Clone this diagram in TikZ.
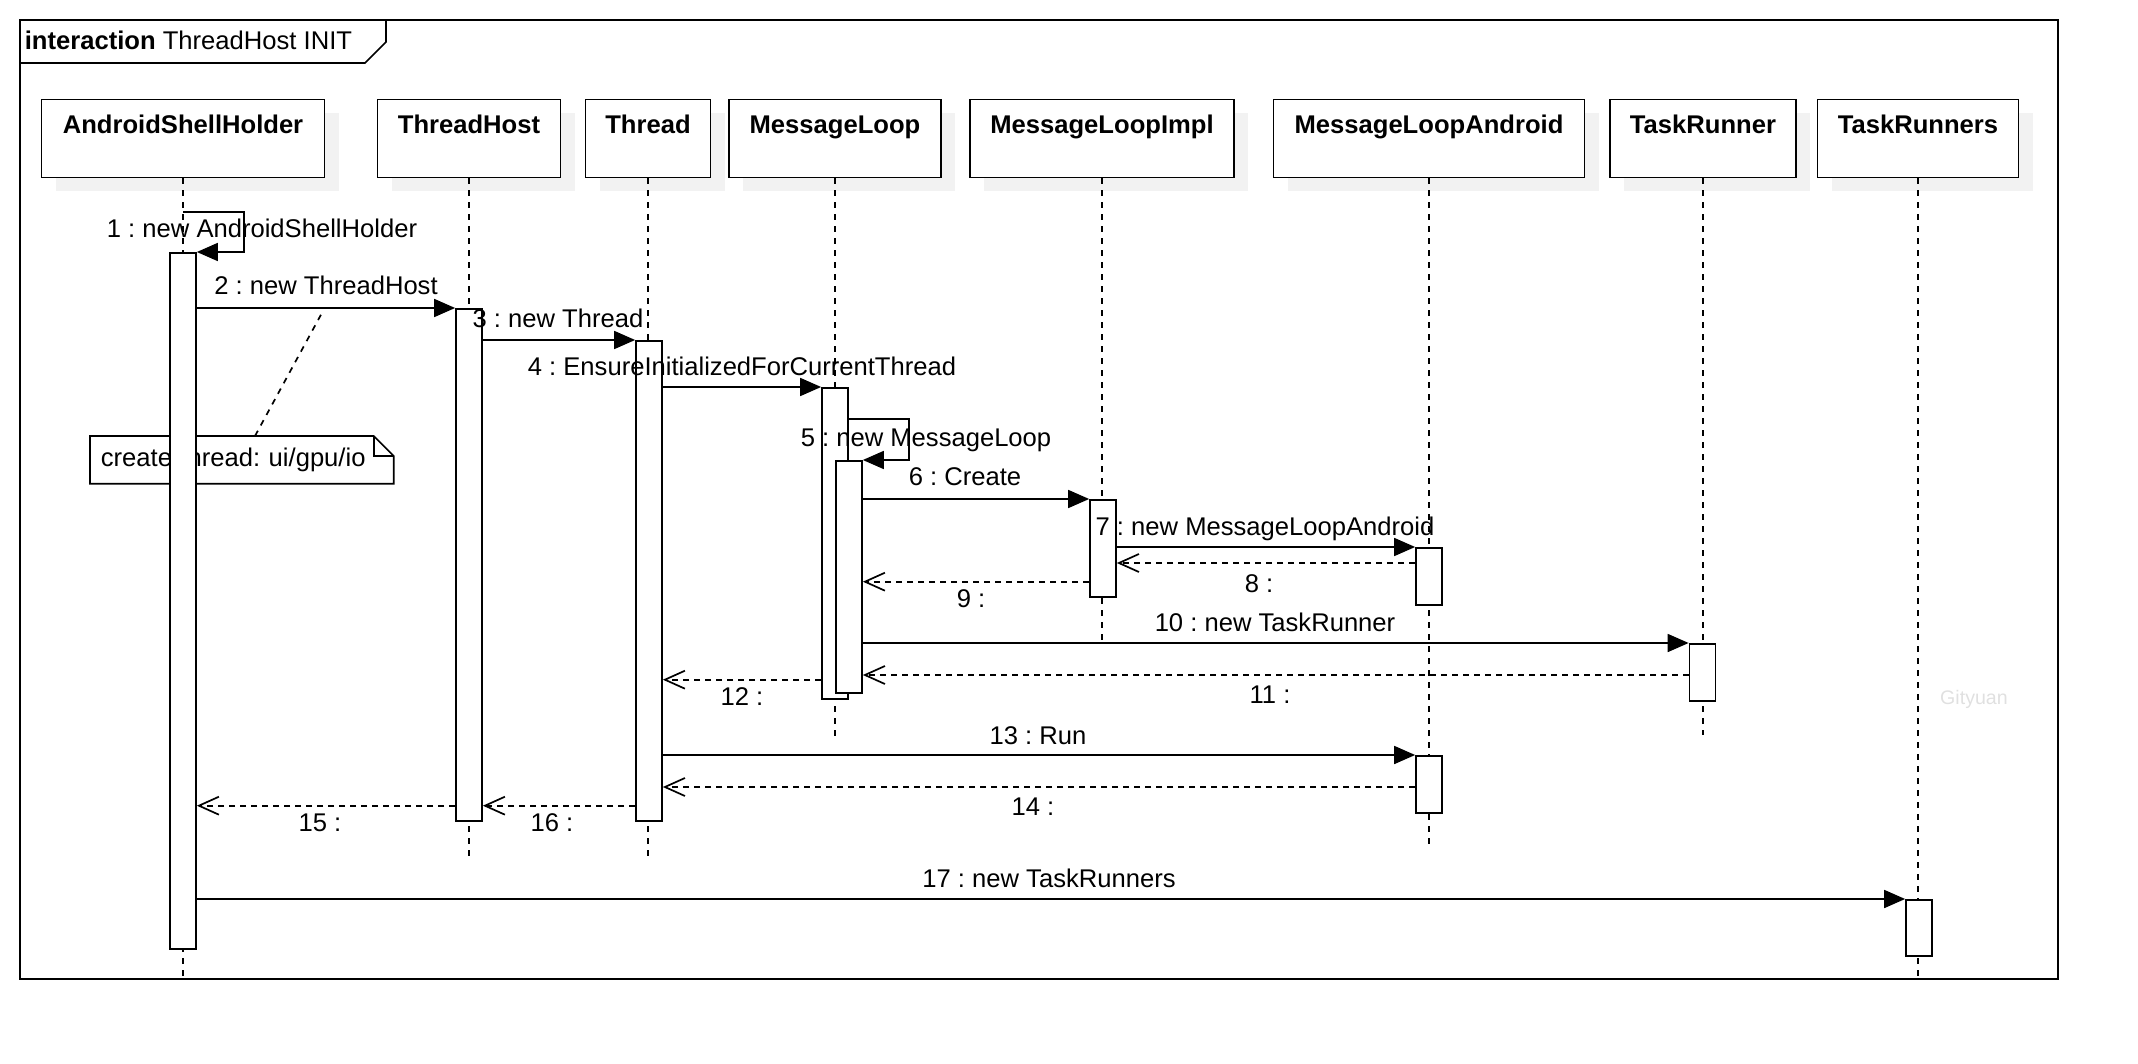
\documentclass[tikz,border=0pt]{standalone}
\usepackage{fontspec}
\setmainfont{Liberation Sans}
\usetikzlibrary{arrows.meta,shadows}
\frenchspacing

\begin{document}
\begin{tikzpicture}[%
    x=0.5pt,
    y=-0.5pt,
    line width=0.85pt,
    font=\fontsize{12.8}{15}\selectfont,
    header/.style={%
        draw,
        fill=white,
        inner sep=0pt,
        minimum height=39pt,
        text height=17pt,
        text depth=22pt,
        font=\fontsize{12.8}{15}\selectfont\bfseries,
        drop shadow={shadow xshift=7pt, shadow yshift=-7pt, fill=black!5, opacity=1}
    },
    bar/.style={%
        draw,
        fill=white,
        inner sep=0pt,
        minimum width=13pt,
        anchor=north
    },
    note/.style={%
        inner xsep=5pt,
        inner ysep=0pt,
        text width=141pt,
        minimum height=23pt,
        text height=9pt,
        text depth=2pt,
        align=left,
        anchor=north west
    },
    msg/.style={%
        anchor=base,
        inner sep=0pt
    },
    watermark/.style={%
        anchor=base,
        inner sep=0pt,
        text=black!12,
        font=\fontsize{9.8}{12}\selectfont
    },
    lifeline/.style={dash pattern=on 3pt off 3pt},
    noteLink/.style={dash pattern=on 3pt off 3pt},
    call/.style={-{Triangle[length=10.5pt,width=9pt]}},
    reply/.style={dash pattern=on 3pt off 2.5pt, -{Straight Barb[length=10pt,width=9pt]}}
]
\useasboundingbox (0,0) rectangle (2138,1064);

% Frame
\draw (20,20) rectangle (2058,979);
\draw (20,63) -- (365,63) -- (386,42) -- (386,20);
\node[anchor=base west, inner sep=0pt] (title) at (24,50) {\textbf{interaction} ThreadHost INIT};

% Lifeline heads
\node[header, minimum width=141.5pt] (shellHolder) at (183,138.5) {AndroidShellHolder};
\node[header, minimum width=91.5pt] (threadHost) at (469,138.5) {ThreadHost};
\node[header, minimum width=62.5pt] (thread) at (648,138.5) {Thread};
\node[header, minimum width=106pt] (messageLoop) at (835,138.5) {MessageLoop};
\node[header, minimum width=132pt] (messageLoopImpl) at (1102,138.5) {MessageLoopImpl};
\node[header, minimum width=155.5pt] (messageLoopAndroid) at (1429,138.5) {MessageLoopAndroid};
\node[header, minimum width=93pt] (taskRunner) at (1703,138.5) {TaskRunner};
\node[header, minimum width=100.5pt] (taskRunners) at (1918,138.5) {TaskRunners};

% Lifelines
\foreach \who/\len in {shellHolder/801, threadHost/680, thread/680, messageLoop/558,
    messageLoopImpl/462, messageLoopAndroid/667, taskRunner/557, taskRunners/801}
    \draw[lifeline] (\who.south) -- ++(0,\len);

% Note
\node[note] (note) at (90,436) {create thread: ui/gpu/io};
\draw (note.north west) -- ([xshift=-10pt]note.north east) -- ([yshift=-10pt]note.north east)
    -- (note.south east) -- (note.south west) -- cycle;
\draw ([xshift=-10pt]note.north east) |- ([yshift=-10pt]note.north east);
\coordinate (noteTarget) at (323,311);
\draw[noteLink] ([xshift=82.5pt]note.north west) -- (noteTarget);

% Activations
\node[bar, minimum height=348pt] (shellHolderBar) at (183,252) {};
\node[bar, minimum height=256pt] (threadHostBar) at (469,308) {};
\node[bar, minimum height=240pt] (threadBar) at (649,340) {};
\node[bar, minimum height=155.5pt] (loopBar) at (835,387) {};
\node[bar, minimum height=116pt] (loopInnerBar) at (849,460) {};
\node[bar, minimum height=48.5pt] (implBar) at (1103,499) {};
\node[bar, minimum height=28.5pt] (androidBar) at (1429,547) {};
\node[bar, minimum height=28.5pt] (runnerBar) at (1702.5,643) {};
\node[bar, minimum height=28.5pt] (androidRunBar) at (1429,755) {};
\node[bar, minimum height=28pt] (runnersBar) at (1919,899) {};

% Calls
\draw[call] ([yshift=-17pt]shellHolder.south) -- ++(61,0) |- (shellHolderBar.north east);
\draw[call] (threadHostBar.north west -| shellHolderBar.east) -- (threadHostBar.north west);
\draw[call] (threadBar.north west -| threadHostBar.east) -- (threadBar.north west);
\draw[call] (loopBar.north west -| threadBar.east) -- (loopBar.north west);
\draw[call] ([yshift=-16pt]loopBar.north east) -- ++(60,0) |- (loopInnerBar.north east);
\draw[call] (implBar.north west -| loopInnerBar.east) -- (implBar.north west);
\draw[call] (androidBar.north west -| implBar.east) -- (androidBar.north west);
\draw[call] (runnerBar.north west -| loopInnerBar.east) -- (runnerBar.north west);
\draw[call] (androidRunBar.north west -| threadBar.east) -- (androidRunBar.north west);
\draw[call] (runnersBar.north west -| shellHolderBar.east) -- (runnersBar.north west);

% Replies
\coordinate (reply8) at ([yshift=-8pt]androidBar.north west);
\coordinate (reply9) at ([yshift=8pt]implBar.south west);
\coordinate (reply11) at ([yshift=-16pt]runnerBar.north west);
\coordinate (reply12) at ([yshift=10pt]loopBar.south west);
\coordinate (reply14) at ([yshift=-16pt]androidRunBar.north west);
\coordinate (reply15) at ([yshift=8pt]threadHostBar.south west);
\coordinate (reply16) at ([yshift=8pt]threadBar.south west);
\draw[reply] (reply8) -- (reply8 -| implBar.east);
\draw[reply] (reply9) -- (reply9 -| loopInnerBar.east);
\draw[reply] (reply11) -- (reply11 -| loopInnerBar.east);
\draw[reply] (reply12) -- (reply12 -| threadBar.east);
\draw[reply] (reply14) -- (reply14 -| threadBar.east);
\draw[reply] (reply15) -- (reply15 -| shellHolderBar.east);
\draw[reply] (reply16) -- (reply16 -| threadHostBar.east);

% Labels
\node[msg] (label1) at (262,238) {1 : new AndroidShellHolder};
\node[msg] (label2) at (326,295) {2 : new ThreadHost};
\node[msg] (label3) at (558,328) {3 : new Thread};
\node[msg] (label4) at (742,376) {4 : EnsureInitializedForCurrentThread};
\node[msg] (label5) at (926,446) {5 : new MessageLoop};
\node[msg] (label6) at (965,485) {6 : Create};
\node[msg] (label7) at (1265,535) {7 : new MessageLoopAndroid};
\node[msg] (label8) at (1259,592) {8 :};
\node[msg] (label9) at (971,607) {9 :};
\node[msg] (label10) at (1275,631) {10 : new TaskRunner};
\node[msg] (label11) at (1270,703) {11 :};
\node[msg] (label12) at (742,705) {12 :};
\node[msg] (label13) at (1038,744) {13 : Run};
\node[msg] (label14) at (1033,815) {14 :};
\node[msg] (label15) at (320,831) {15 :};
\node[msg] (label16) at (552,831) {16 :};
\node[msg] (label17) at (1049,887) {17 : new TaskRunners};

\node[watermark] (gityuan) at (1974,704) {Gityuan};

\end{tikzpicture}
\end{document}
